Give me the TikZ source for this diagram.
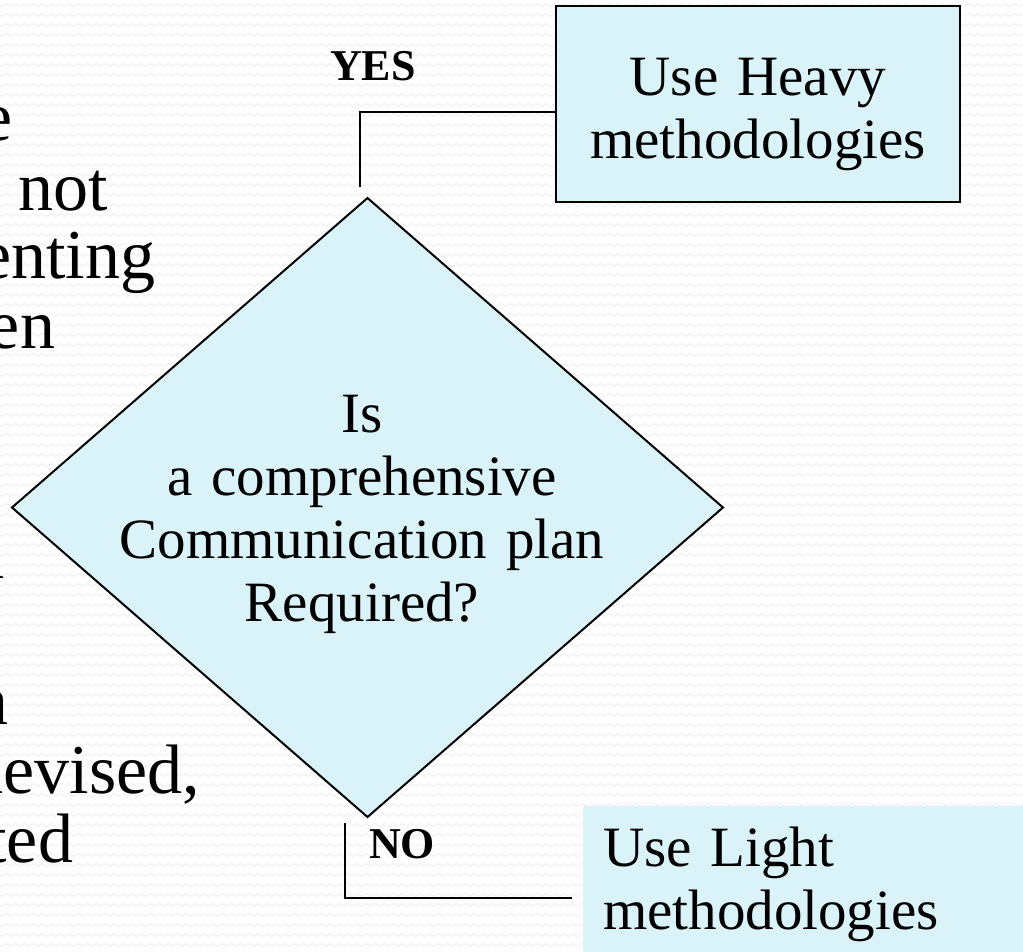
\documentclass[tikz,border=0pt]{standalone}
\usepackage{fontspec}
\setmainfont{Liberation Serif}
\newfontfamily\labelfont{Liberation Serif}
\usetikzlibrary{shapes.geometric,decorations.pathmorphing}
\definecolor{boxfill}{HTML}{DAF3F8}
\definecolor{wavegray}{HTML}{EEEEEE}
\tikzset{
  every node/.style={inner sep=0pt, outer sep=0pt},
  bigtext/.style={font=\fontsize{57pt}{63.3pt}\selectfont},
  sidetext/.style={font=\fontsize{70pt}{69pt}\selectfont, anchor=base east},
  answer/.style={font=\labelfont\bfseries\fontsize{44pt}{50pt}\selectfont, anchor=base},
  decisionbox/.style={diamond, draw, line width=2pt, fill=boxfill,
    minimum width=711pt, minimum height=619pt},
  heavybox/.style={rectangle, draw, line width=2.2pt, fill=boxfill},
  lightbox/.style={rectangle, fill=boxfill},
  link/.style={draw, line width=2.2pt},
  bgwave/.style={draw=wavegray, line width=0.8pt, decorate,
    decoration={zigzag, segment length=9pt, amplitude=1.5pt}},
}
\begin{document}
\begin{tikzpicture}[x=1pt,y=-1pt]
\useasboundingbox (0,0) rectangle (1023,951);
% textured slide background
\fill[white] (0,0) rectangle (1023,951);
\foreach \r in {5,15,...,945} \draw[bgwave] (-5,\r) -- (1030,\r);

% body text running off the left edge
\node[sidetext] (s1) at (13,140) {e};
\node[sidetext] (s2) at (108,210) {not};
\node[sidetext] (s3) at (155,278) {enting};
\node[sidetext] (s4) at (55,348) {en};
\node[sidetext] (s5) at (5,578) {a};
\node[sidetext] (s6) at (8,724) {n};
\node[sidetext] (s7) at (200,793) {devised,};
\node[sidetext] (s8) at (73,862) {ted};

% decision
\node[decisionbox] (q) at (367.5,507.5) {};
\node[bigtext, anchor=base, text width=600pt, align=center] (qtext) at (362,432)
  {Is\\a comprehensive\\Communication plan\\Required?};

% outcome boxes
\node[heavybox, minimum width=404pt, minimum height=196pt] (heavy) at (758,104) {};
\node[bigtext, anchor=base, text width=404pt, align=center] (heavytext) at (758,95)
  {Use Heavy\\methodologies};
\node[lightbox, anchor=north west, minimum width=445pt, minimum height=150pt] (light) at (583,806) {};
\node[bigtext, anchor=base west, text width=420pt, align=left] (lighttext) at (603,866)
  {Use Light\\methodologies};

% branches
\coordinate (yesfoot) at (360,187);
\draw[link] (yesfoot) |- ([yshift=-8pt]heavy.west);
\node[answer] (yes) at (373,80) {YES};

\coordinate (nofoot) at (345,823);
\coordinate (noend) at (572,898);
\draw[link] (nofoot) |- (noend);
\node[answer] (no) at (402,858) {NO};
\end{tikzpicture}
\end{document}
